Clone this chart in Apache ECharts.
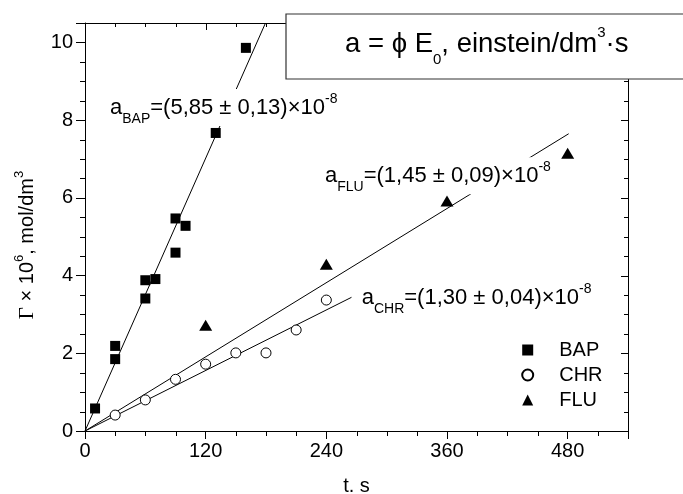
<!DOCTYPE html>
<html><head><meta charset="utf-8">
<script src="https://cdn.jsdelivr.net/npm/echarts/dist/echarts.min.js"></script>
<style>html,body{margin:0;padding:0;background:#fff}#c{width:683px;height:494px}</style>
</head><body><div id="c"></div>
<script>
// ---- data ----
const bapT = [10, 30, 30, 60, 60, 70, 90, 90, 100, 130, 160];
const bapV = [0.58, 2.19, 1.85, 3.88, 3.41, 3.91, 4.59, 5.47, 5.28, 7.67, 9.86];
const chrT = [30, 60, 90, 120, 150, 180, 210, 240];
const chrV = [0.41, 0.80, 1.33, 1.72, 2.01, 2.01, 2.60, 3.37];
const fluT = [120, 240, 360, 480];
const fluV = [2.72, 4.29, 5.92, 7.15];
const bapFitT = [0, 179.5], bapFitV = [0, 10.5];
const chrFitT = [0, 265],   chrFitV = [0, 3.44];
const fluFitT = [0, 481],   fluFitV = [0, 7.65];
const xTickLabels = [0, 120, 240, 360, 480];
const yTickLabels = [0, 2, 4, 6, 8, 10];
const xMinorTicks = [30, 60, 90, 150, 180, 210, 270, 300, 330, 390, 420, 450, 510];
const yMinorTicks = [0.5, 1, 1.5, 2.5, 3, 3.5, 4.5, 5, 5.5, 6.5, 7, 7.5, 8.5, 9, 9.5];
const seriesNames = ['BAP', 'CHR', 'FLU'];
const X_MIN = 0, X_MAX = 540, Y_MIN = 0, Y_MAX = 10.5;

const zip = (a, b) => a.map((v, i) => [v, b[i]]);
const FONT = '"Liberation Sans", Arial, Helvetica, "DejaVu Sans", sans-serif';
const BLACK = '#000';
const GRID = { left: 85, top: 23, width: 543, height: 408 };

const chart = echarts.init(document.getElementById('c'), null, { renderer: 'canvas' });

const subPad = { fontSize: 14, fontFamily: FONT, padding: [23, 0, 0, 0] };
const supPad = { fontSize: 14, fontFamily: FONT, padding: [0, 0, 17, 0] };
const mainTxt = { fontSize: 22, fontFamily: FONT };

function annot(x, y, sub, body) {
  return {
    type: 'text', x, y, z: 100,
    style: {
      text: '{m|a}{sub|' + sub + '}{m|' + body + '}{sup|-8}',
      align: 'left', verticalAlign: 'middle',
      backgroundColor: '#fff',
      rich: { m: mainTxt, sub: subPad, sup: supPad }
    }
  };
}

const fitLine = (t, v) => ({
  type: 'line', data: zip(t, v),
  symbol: 'none', lineStyle: { color: BLACK, width: 1 }, z: 1, silent: true
});

chart.setOption({
  animation: false,
  backgroundColor: '#fff',
  grid: Object.assign({ containLabel: false }, GRID),
  xAxis: {
    type: 'value', min: X_MIN, max: X_MAX, interval: 120,
    axisLine: { show: true, onZero: false, lineStyle: { color: BLACK, width: 1 } },
    axisTick: { show: true, inside: false, length: 8, lineStyle: { color: BLACK, width: 1 } },
    splitLine: { show: false },
    axisLabel: { color: BLACK, fontFamily: FONT, fontSize: 20, margin: 10,
      formatter: v => xTickLabels.includes(v) ? String(v) : '' }
  },
  yAxis: {
    type: 'value', min: Y_MIN, max: Y_MAX, interval: 2,
    axisLine: { show: true, onZero: false, lineStyle: { color: BLACK, width: 1 } },
    axisTick: { show: true, inside: false, length: 9, lineStyle: { color: BLACK, width: 1 } },
    splitLine: { show: false },
    axisLabel: { color: BLACK, fontFamily: FONT, fontSize: 20, margin: 12,
      formatter: v => yTickLabels.includes(v) ? String(v) : '' }
  },
  legend: {
    data: seriesNames, orient: 'vertical', left: 516.2, top: 335,
    itemWidth: 11, itemHeight: 11, itemGap: 5,
    textStyle: { color: BLACK, fontFamily: FONT, fontSize: 20, padding: [0, 0, 0, 21] }
  },
  series: [
    fitLine(bapFitT, bapFitV),
    fitLine(chrFitT, chrFitV),
    fitLine(fluFitT, fluFitV),
    { name: seriesNames[0], type: 'scatter', data: zip(bapT, bapV), symbol: 'rect', symbolSize: 10,
      itemStyle: { color: BLACK, opacity: 1 }, z: 5 },
    { name: seriesNames[1], type: 'scatter', data: zip(chrT, chrV), symbol: 'circle', symbolSize: 10,
      itemStyle: { color: '#fff', borderColor: BLACK, borderWidth: 1, opacity: 1 }, z: 5 },
    { name: seriesNames[2], type: 'scatter', data: zip(fluT, fluV), symbol: 'triangle', symbolSize: [13, 11],
      itemStyle: { color: BLACK, opacity: 1 }, z: 5 }
  ]
});

// ---- frame (top/right edges) and secondary ticks, positioned through the chart's scales ----
function px(x, y) {
  let p = null;
  try { p = chart.convertToPixel({ gridIndex: 0 }, [x, y]); } catch (e) { p = null; }
  if (!p || !isFinite(p[0]) || !isFinite(p[1])) {
    p = [GRID.left + (x - X_MIN) / (X_MAX - X_MIN) * GRID.width,
         GRID.top + (Y_MAX - y) / (Y_MAX - Y_MIN) * GRID.height];
  }
  return p;
}
const R = Math.round;
// thin filled rectangles (1 px) for lines and ticks
const bar = (x, y, w, h) => ({ type: 'rect', z: 80, silent: true,
  shape: { x, y, width: w, height: h }, style: { fill: BLACK } });
const frame = [];
{
  const tl = px(X_MIN, Y_MAX), tr = px(X_MAX, Y_MAX), br = px(X_MAX, Y_MIN);
  frame.push(bar(R(tl[0]), R(tl[1]), R(tr[0]) - R(tl[0]) + 1, 1));           // top edge
  frame.push(bar(R(tr[0]), R(tr[1]), 1, R(br[1]) - R(tr[1]) + 5));           // right edge
}
xTickLabels.forEach(v => { const t = px(v, Y_MAX); frame.push(bar(R(t[0]), R(t[1]), 1, 7)); });
xMinorTicks.forEach(v => {
  const b = px(v, Y_MIN), t = px(v, Y_MAX);
  frame.push(bar(R(b[0]), R(b[1]), 1, 5));
  frame.push(bar(R(t[0]), R(t[1]), 1, 4));
});
yTickLabels.forEach(v => { const r = px(X_MAX, v); frame.push(bar(R(r[0]) - 7, R(r[1]), 7, 1)); });
yMinorTicks.forEach(v => {
  const l = px(X_MIN, v), r = px(X_MAX, v);
  frame.push(bar(R(l[0]) - 5, R(l[1]), 5, 1));
  frame.push(bar(R(r[0]) - 4, R(r[1]), 4, 1));
});

chart.setOption({
  graphic: frame.concat([
    { type: 'rect', z: 90, shape: { x: 286, y: 14, width: 420, height: 65 },
      style: { fill: '#fff', stroke: '#333', lineWidth: 1.2 } },
    { type: 'text', x: 345, y: 44, z: 100,
      style: {
        text: '{m|a = ϕ E}{sub|0}{m|, einstein/dm}{sup|3}{m|·s}',
        align: 'left', verticalAlign: 'middle',
        rich: {
          m: { fontSize: 27.5, fontFamily: FONT },
          sub: { fontSize: 15, fontFamily: FONT, padding: [32, 0, 0, 0] },
          sup: { fontSize: 15, fontFamily: FONT, padding: [0, 0, 22, 0] }
        }
      } },
    annot(110, 107.5, 'BAP', '=(5,85 ± 0,13)×10'),
    annot(325, 175.7, 'FLU', '=(1,45 ± 0,09)×10'),
    annot(361.7, 297.5, 'CHR', '=(1,30 ± 0,04)×10'),
    { type: 'text', x: 356.5, y: 486, z: 100,
      style: { text: 't. s', align: 'center', verticalAlign: 'middle', fontSize: 20, fontFamily: FONT, fill: BLACK } },
    { type: 'text', x: 27, y: 245, z: 100, rotation: Math.PI / 2,
      style: {
        text: '{g|Γ}{m| × 10}{sup|6}{m|, mol/dm}{sup|3}',
        align: 'center', verticalAlign: 'middle',
        rich: {
          g: { fontSize: 21, fontFamily: '"Liberation Serif", "Times New Roman", serif' },
          m: { fontSize: 20, fontFamily: FONT },
          sup: { fontSize: 13, fontFamily: FONT, padding: [0, 0, 16, 0] }
        }
      } }
  ])
});
</script>
</body></html>
